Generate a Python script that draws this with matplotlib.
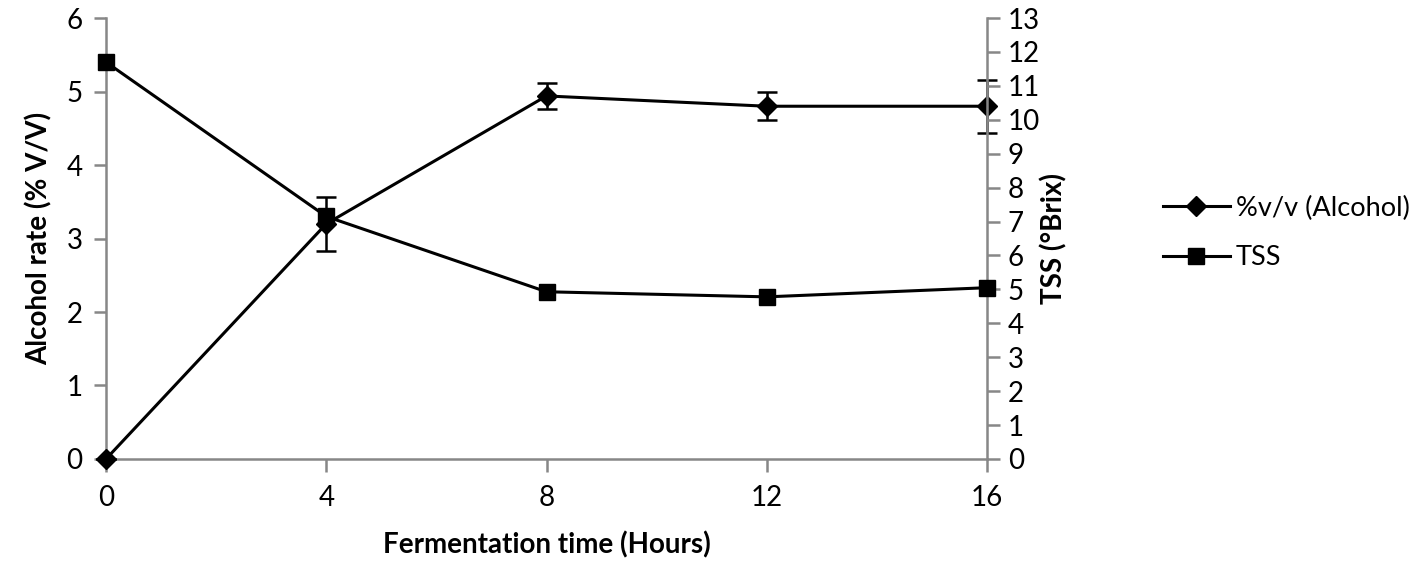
import matplotlib
matplotlib.use('Agg')
import matplotlib.pyplot as plt
from matplotlib.lines import Line2D

plt.rcParams['font.family'] = ['Lato', 'DejaVu Sans']

time_h = [0, 4, 8, 12, 16]
alcohol = [0.0, 3.2, 4.94, 4.8, 4.8]
alcohol_err = [0.0, 0.37, 0.18, 0.19, 0.36]
tss = [11.7, 7.15, 4.93, 4.78, 5.05]

grey = '#878787'

fig = plt.figure(figsize=(14.23, 5.64), dpi=100)
ax = fig.add_axes([0.0745, 0.1862, 0.6191, 0.7818])
ax2 = ax.twinx()

ax.errorbar(time_h, alcohol, yerr=alcohol_err, color='black', lw=2.2,
            marker='D', ms=10, capsize=7, elinewidth=1.8, capthick=1.8,
            clip_on=False, zorder=3)
ax2.plot(time_h, tss, color='black', lw=2.2, marker='s', ms=11,
         clip_on=False, zorder=3)

ax.set_xlim(0, 16)
ax.set_ylim(0, 6)
ax2.set_ylim(0, 13)
ax.set_xticks(time_h)
ax.set_yticks(range(0, 7))
ax2.set_yticks(range(0, 14))

for a in (ax, ax2):
    a.spines['top'].set_visible(False)
    for s in a.spines.values():
        s.set_color(grey)
        s.set_linewidth(1.8)
    a.tick_params(colors=grey, width=1.8, length=9, labelcolor='black',
                  labelsize=20)
ax.spines['right'].set_visible(False)
ax2.spines['left'].set_visible(False)
ax2.spines['bottom'].set_visible(False)
ax.tick_params(axis='x', pad=10)
ax.tick_params(axis='y', pad=8)
ax2.tick_params(axis='y', pad=6)

ax.set_xlabel('Fermentation time (Hours)', fontsize=20, fontweight='bold',
              labelpad=14)
ax.set_ylabel('Alcohol rate (% V/V)', fontsize=20, fontweight='bold',
              labelpad=10)
ax2.set_ylabel('TSS (°Brix)', fontsize=20, fontweight='bold', labelpad=0)

h1 = Line2D([], [], color='black', lw=2.2, marker='D', ms=10)
h2 = Line2D([], [], color='black', lw=2.2, marker='s', ms=11)
fig.legend([h1, h2], ['%v/v (Alcohol)', 'TSS'], loc='center left',
           bbox_to_anchor=(0.817, 0.587), frameon=False, fontsize=19.5,
           handlelength=2.5, labelspacing=0.9, handletextpad=0.2,
           borderaxespad=0, borderpad=0)

plt.savefig('out.png', dpi=100)
